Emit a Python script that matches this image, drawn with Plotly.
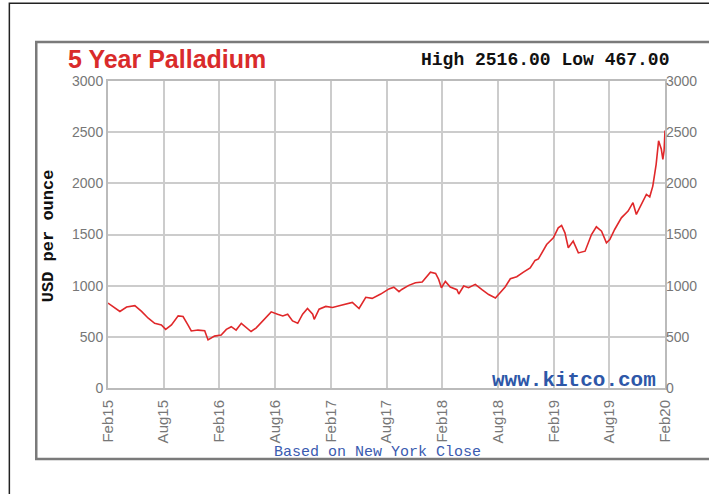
import plotly.graph_objects as go

# ---- data ----
dates = [
    "2015-02-27", "2015-03-22", "2015-04-07", "2015-04-29", "2015-05-26", "2015-06-17",
    "2015-07-09", "2015-07-30", "2015-08-21", "2015-09-04", "2015-09-23", "2015-10-15",
    "2015-10-31", "2015-11-16", "2015-11-27", "2015-12-19", "2016-01-10", "2016-01-21",
    "2016-02-11", "2016-03-04", "2016-03-21", "2016-04-06", "2016-04-22", "2016-05-09",
    "2016-05-30", "2016-06-10", "2016-06-27", "2016-07-24", "2016-08-15", "2016-09-05",
    "2016-09-22", "2016-10-08", "2016-10-24", "2016-11-10", "2016-11-26", "2016-12-12",
    "2016-12-29", "2017-01-03", "2017-01-19", "2017-02-10", "2017-03-04", "2017-03-26",
    "2017-04-17", "2017-05-08", "2017-05-30", "2017-06-21", "2017-07-12", "2017-08-09",
    "2017-09-05", "2017-09-21", "2017-10-08", "2017-10-17", "2017-11-09", "2017-12-01",
    "2017-12-23", "2018-01-08", "2018-01-19", "2018-02-05", "2018-02-15", "2018-02-24",
    "2018-03-09", "2018-03-25", "2018-04-16", "2018-04-22", "2018-05-08", "2018-05-24",
    "2018-06-15", "2018-07-07", "2018-07-29", "2018-08-20", "2018-09-05", "2018-09-21",
    "2018-10-08", "2018-10-29", "2018-11-20", "2018-12-12", "2018-12-28", "2019-01-08",
    "2019-02-04", "2019-02-26", "2019-03-14", "2019-03-25", "2019-04-05", "2019-04-16",
    "2019-05-02", "2019-05-19", "2019-06-10", "2019-07-01", "2019-07-17", "2019-08-03",
    "2019-08-19", "2019-08-30", "2019-09-15", "2019-10-07", "2019-10-29", "2019-11-14",
    "2019-11-25", "2019-12-11", "2019-12-28", "2020-01-08", "2020-01-18", "2020-01-29",
    "2020-02-06", "2020-02-15", "2020-02-20", "2020-02-24", "2020-02-27",
]
prices = [
    830, 781, 748, 791, 804, 748,
    682, 632, 616, 573, 616, 705,
    698, 616, 557, 566, 560, 470,
    507, 517, 573, 599, 566, 632,
    583, 552, 588, 671, 744, 721,
    704, 721, 655, 632, 721, 777,
    721, 671, 770, 797, 787, 803,
    820, 836, 777, 886, 876, 918,
    968, 985, 942, 963, 1003, 1029,
    1035, 1087, 1132, 1119, 1061, 980,
    1042, 987, 961, 919, 997, 980,
    1013, 961, 913, 880, 929, 987,
    1068, 1087, 1132, 1174, 1247, 1261,
    1402, 1467, 1565, 1588, 1516, 1370,
    1435, 1320, 1337, 1500, 1575, 1533,
    1418, 1451, 1549, 1663, 1729, 1811,
    1696, 1794, 1892, 1868, 1973, 2186,
    2415, 2333, 2235, 2320, 2516,
]
tick_dates = ["2015-02-27", "2015-08-28", "2016-02-27", "2016-08-28", "2017-02-27",
              "2017-08-28", "2018-02-27", "2018-08-28", "2019-02-27", "2019-08-28",
              "2020-02-27"]
tick_labels = ["Feb15", "Aug15", "Feb16", "Aug16", "Feb17", "Aug17",
               "Feb18", "Aug18", "Feb19", "Aug19", "Feb20"]
y_ticks = [0, 500, 1000, 1500, 2000, 2500, 3000]
x_range = ["2015-02-27", "2020-02-27"]
y_range = [0, 3000]

# ---- geometry helpers (pixel -> paper) ----
L, R, T, B = 108, 667, 81, 388
W, H = R - L, B - T
def px(x):
    return (x - L) / W
def py(y):
    return (B - y) / H

GRAY_TXT = "#777777"
fig = go.Figure()
fig.add_trace(go.Scatter(x=dates, y=prices, mode="lines",
                         line=dict(color="#e0282a", width=1.6),
                         hoverinfo="x+y", showlegend=False))
# anchor trace for the right-hand axis
fig.add_trace(go.Scatter(x=[x_range[0]], y=[y_range[0]], mode="markers",
                         marker=dict(opacity=0), yaxis="y2",
                         hoverinfo="skip", showlegend=False))

fig.update_layout(
    width=709, height=494,
    margin=dict(l=L, r=709 - R, t=T, b=494 - B),
    paper_bgcolor="white", plot_bgcolor="white",
    font=dict(family="Liberation Sans, Arial, sans-serif", color=GRAY_TXT),
    xaxis=dict(range=x_range, tickvals=tick_dates, ticktext=tick_labels,
               tickangle=-90, tickfont=dict(size=15, color=GRAY_TXT),
               ticklabelstandoff=4,
               showgrid=True, gridcolor="#cccccc", gridwidth=2,
               showline=True, linecolor="#bbbbbb", linewidth=2, mirror=True,
               ticks="", zeroline=False, fixedrange=True),
    yaxis=dict(range=y_range, tickvals=y_ticks,
               tickfont=dict(size=14, color=GRAY_TXT),
               showgrid=True, gridcolor="#cccccc", gridwidth=2,
               showline=True, linecolor="#bbbbbb", linewidth=2, mirror=True,
               ticks="", zeroline=False, fixedrange=True),
    yaxis2=dict(range=y_range, tickvals=y_ticks, overlaying="y", side="right",
                tickfont=dict(size=14, color=GRAY_TXT), showgrid=False,
                zeroline=False, showline=False, ticks="", fixedrange=True),
)

shapes = [
    # outer thin black frame
    dict(type="rect", xref="paper", yref="paper",
         x0=px(9), x1=px(760), y0=py(560), y1=py(3.3),
         line=dict(color="#222222", width=1.5), layer="below"),
    # gray chart frame
    dict(type="rect", xref="paper", yref="paper",
         x0=px(36), x1=px(740), y0=py(459), y1=py(42),
         line=dict(color="#7a7a7a", width=2.5), layer="below"),
]
fig.update_layout(shapes=shapes)

annotations = [
    dict(text="<b>5 Year Palladium</b>", x=px(66), y=py(75.5), xanchor="left",
         yanchor="bottom", font=dict(family="Liberation Sans, Arial", size=25,
                                      color="#d92b2b")),
    dict(text="<b>High 2516.00 Low 467.00</b>", x=px(673), y=py(60.5),
         xanchor="right", yanchor="middle",
         font=dict(family="Liberation Mono, DejaVu Sans Mono", size=18,
                   color="#111111")),
    dict(text="<b>USD per ounce</b>", x=px(48), y=py(236), textangle=-90,
         xanchor="center", yanchor="middle",
         font=dict(family="Liberation Mono, DejaVu Sans Mono", size=17,
                   color="#111111")),
    dict(text="Based on New York Close", x=px(378.5), y=py(452),
         xanchor="center", yanchor="middle",
         font=dict(family="Liberation Mono, DejaVu Sans Mono", size=15,
                   color="#3a5bb0")),
    dict(text="<b>www.kitco.com</b>", x=px(660), y=py(380),
         xanchor="right", yanchor="middle",
         font=dict(family="Liberation Mono, DejaVu Sans Mono", size=21,
                   color="#2d57a8")),
]
for a in annotations:
    a.update(xref="paper", yref="paper", showarrow=False)
fig.update_layout(annotations=annotations)

fig.write_html("out.html", config={"displayModeBar": False},
               post_script="document.body.style.margin='0';"
                           "document.body.style.overflow='hidden';")
